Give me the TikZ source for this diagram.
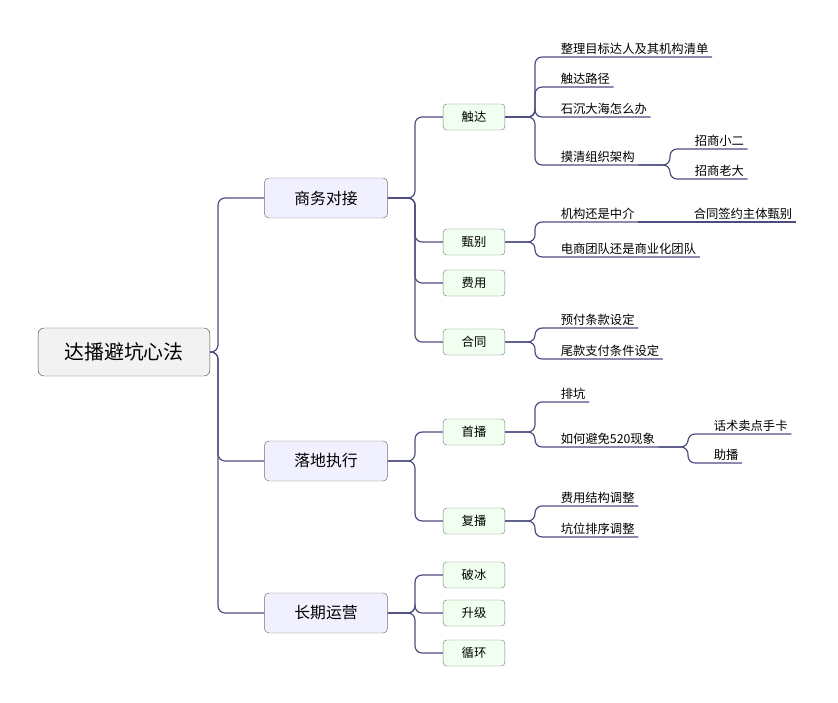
\documentclass[tikz,border=0pt]{standalone}
\usepackage{fontspec}
\setmainfont{Noto Sans CJK SC}
\tikzset{ rootbox/.style = { rectangle % centre
        , rounded corners = 5pt
        , draw = black!70
        , fill = black!5
        , minimum width = 5.15cm
        , minimum height = 1.44cm
        , font = \fontsize{17}{20}\selectfont
        }
        , mainbox/.style = { rectangle % branch
        , rounded corners = 4pt
        , draw = black!55
        , fill = blue!6
        , minimum width = 3.7cm
        , minimum height = 1.2cm
        , font = \fontsize{13.5}{16}\selectfont
        }
        , subbox/.style = { rectangle % topic
        , rounded corners = 3pt
        , draw = black!50
        , fill = green!6
        , minimum width = 1.85cm
        , minimum height = 0.78cm
        , font = \fontsize{10.5}{12}\selectfont
        }
        , leaf/.style = { inner xsep = 3pt % underlined topic
        , inner ysep = 2pt
        , anchor = south west
        , font = \fontsize{10.5}{12}\selectfont
        }
        }
\begin{document}
\begin{tikzpicture}[x=0.03cm, y=-0.03cm,
        link/.style={draw=black!50!blue!40!gray, line width=1pt, rounded corners=6pt}]
        \useasboundingbox (0,0) rectangle (838,703);

        \node [rootbox] (root) at (124,352) {达播避坑心法};
        \node [mainbox] (m1) at (326,198) {商务对接};
        \node [mainbox] (m2) at (326,461) {落地执行};
        \node [mainbox] (m3) at (326,613) {长期运营};

        \node [subbox] (chuda) at (474,117) {触达};
        \node [subbox] (zhenbie) at (474,242) {甄别};
        \node [subbox] (feiyong) at (474,283) {费用};
        \node [subbox] (hetong) at (474,342) {合同};
        \node [subbox] (shoubo) at (474,432) {首播};
        \node [subbox] (fubo) at (474,521) {复播};
        \node [subbox] (pobing) at (474,575) {破冰};
        \node [subbox] (shengji) at (474,613) {升级};
        \node [subbox] (xunhuan) at (474,653) {循环};

        \node [leaf] (c1) at (557,57) {整理目标达人及其机构清单};
        \node [leaf] (c2) at (557,87) {触达路径};
        \node [leaf] (c3) at (557,117) {石沉大海怎么办};
        \node [leaf] (c4) at (557,165) {摸清组织架构};
        \node [leaf] (c41) at (691,149) {招商小二};
        \node [leaf] (c42) at (691,179) {招商老大};
        \node [leaf] (z1) at (557,222) {机构还是中介};
        \node [leaf] (z11) at (690,222) {合同签约主体甄别};
        \node [leaf] (z2) at (557,257) {电商团队还是商业化团队};
        \node [leaf] (h1) at (557,328) {预付条款设定};
        \node [leaf] (h2) at (557,359) {尾款支付条件设定};
        \node [leaf] (s1) at (557,402) {排坑};
        \node [leaf] (s2) at (557,447) {如何避免520现象};
        \node [leaf] (s21) at (710,434) {话术卖点手卡};
        \node [leaf] (s22) at (710,463) {助播};
        \node [leaf] (f1) at (557,506) {费用结构调整};
        \node [leaf] (f2) at (557,537) {坑位排序调整};

        % main branches
        \foreach \m in {m1,m2,m3}
            \draw [link] (root.east) -- (218,352) |- (\m.west);
        \foreach \s in {chuda,zhenbie,feiyong,hetong}
            \draw [link] (m1.east) -- (415,198) |- (\s.west);
        \foreach \s in {shoubo,fubo}
            \draw [link] (m2.east) -- (415,461) |- (\s.west);
        \foreach \s in {pobing,shengji,xunhuan}
            \draw [link] (m3.east) -- (415,613) |- (\s.west);

        % leaves
        \foreach \c in {c1,c2,c3,c4}
            \draw [link] (chuda.east) -- (535,117) |- (\c.south west) -- (\c.south east);
        \foreach \c in {c41,c42}
            \draw [link] (c4.south east) -- (670,165) |- (\c.south west) -- (\c.south east);
        \foreach \c in {z1,z2}
            \draw [link] (zhenbie.east) -- (535,242) |- (\c.south west) -- (\c.south east);
        \draw [link] (z1.south east) -- (z11.south west) -- (z11.south east);
        \foreach \c in {h1,h2}
            \draw [link] (hetong.east) -- (535,342) |- (\c.south west) -- (\c.south east);
        \foreach \c in {s1,s2}
            \draw [link] (shoubo.east) -- (535,432) |- (\c.south west) -- (\c.south east);
        \foreach \c in {s21,s22}
            \draw [link] (s2.south east) -- (688,447) |- (\c.south west) -- (\c.south east);
        \foreach \c in {f1,f2}
            \draw [link] (fubo.east) -- (535,521) |- (\c.south west) -- (\c.south east);
\end{tikzpicture}
\end{document}
